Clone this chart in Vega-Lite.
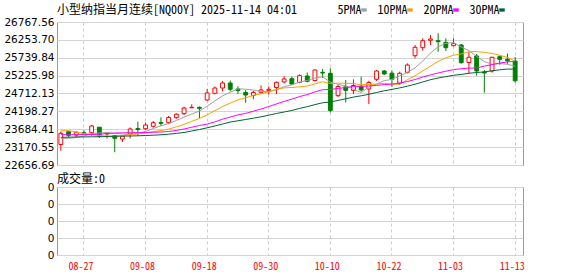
{
  "$schema": "https://vega.github.io/schema/vega-lite/v6.json",
  "background": "white",
  "padding": {"left": 3, "top": 3, "right": 5, "bottom": 2},
  "bounds": "flush",
  "spacing": 22,
  "config": {
    "view": {"stroke": "#999", "strokeWidth": 1},
    "axis": {"labelFont": "DejaVu Sans", "labelFontSize": 10.5, "labelColor": "#000", "gridColor": "#d4d4d4", "gridWidth": 1, "ticks": false, "tickSize": 0, "domain": false, "labelOverlap": false}
  },
  "datasets": {
    "k": [
      {"d":"08-22","o":23246,"h":23620,"l":23068,"c":23568,"5PMA":23424,"10PMA":23643,"20PMA":23528,"30PMA":23453,"v":0},
      {"d":"08-25","o":23614,"h":23634,"l":23447,"c":23510,"5PMA":23424,"10PMA":23643,"20PMA":23528,"30PMA":23456,"v":0},
      {"d":"08-26","o":23519,"h":23620,"l":23433,"c":23597,"5PMA":23447,"10PMA":23605,"20PMA":23528,"30PMA":23462,"v":0},
      {"d":"08-27","o":23585,"h":23654,"l":23533,"c":23556,"5PMA":23490,"10PMA":23562,"20PMA":23531,"30PMA":23465,"v":0},
      {"d":"08-28","o":23585,"h":23807,"l":23499,"c":23778,"5PMA":23562,"10PMA":23533,"20PMA":23533,"30PMA":23467,"v":0},
      {"d":"08-29","o":23743,"h":23749,"l":23433,"c":23485,"5PMA":23577,"10PMA":23505,"20PMA":23542,"30PMA":23470,"v":0},
      {"d":"09-01","o":23548,"h":23585,"l":23418,"c":23568,"5PMA":23591,"10PMA":23490,"20PMA":23562,"30PMA":23476,"v":0},
      {"d":"09-02","o":23505,"h":23519,"l":23022,"c":23424,"5PMA":23562,"10PMA":23490,"20PMA":23577,"30PMA":23482,"v":0},
      {"d":"09-03","o":23404,"h":23490,"l":23318,"c":23482,"5PMA":23548,"10PMA":23496,"20PMA":23582,"30PMA":23488,"v":0},
      {"d":"09-04","o":23548,"h":23735,"l":23424,"c":23692,"5PMA":23531,"10PMA":23533,"20PMA":23585,"30PMA":23490,"v":0},
      {"d":"09-05","o":23706,"h":23901,"l":23490,"c":23677,"5PMA":23568,"10PMA":23548,"20PMA":23588,"30PMA":23496,"v":0},
      {"d":"09-08","o":23700,"h":23878,"l":23663,"c":23807,"5PMA":23617,"10PMA":23577,"20PMA":23591,"30PMA":23505,"v":0},
      {"d":"09-09","o":23769,"h":23922,"l":23729,"c":23873,"5PMA":23706,"10PMA":23614,"20PMA":23597,"30PMA":23513,"v":0},
      {"d":"09-10","o":23878,"h":24028,"l":23778,"c":23855,"5PMA":23781,"10PMA":23649,"20PMA":23605,"30PMA":23525,"v":0},
      {"d":"09-11","o":23873,"h":24065,"l":23835,"c":24022,"5PMA":23847,"10PMA":23689,"20PMA":23620,"30PMA":23542,"v":0},
      {"d":"09-12","o":24016,"h":24143,"l":23988,"c":24117,"5PMA":23936,"10PMA":23752,"20PMA":23649,"30PMA":23565,"v":0},
      {"d":"09-15","o":24131,"h":24333,"l":24094,"c":24295,"5PMA":24034,"10PMA":23824,"20PMA":23692,"30PMA":23591,"v":0},
      {"d":"09-16","o":24301,"h":24402,"l":24295,"c":24315,"5PMA":24120,"10PMA":23913,"20PMA":23743,"30PMA":23634,"v":0},
      {"d":"09-17","o":24315,"h":24338,"l":24008,"c":24287,"5PMA":24206,"10PMA":23994,"20PMA":23792,"30PMA":23677,"v":0},
      {"d":"09-18","o":24525,"h":24842,"l":24497,"c":24727,"5PMA":24347,"10PMA":24097,"20PMA":23833,"30PMA":23726,"v":0},
      {"d":"09-19","o":24718,"h":24913,"l":24689,"c":24870,"5PMA":24499,"10PMA":24218,"20PMA":23896,"30PMA":23778,"v":0},
      {"d":"09-22","o":24870,"h":25072,"l":24770,"c":25014,"5PMA":24643,"10PMA":24338,"20PMA":23973,"30PMA":23835,"v":0},
      {"d":"09-23","o":25014,"h":25086,"l":24770,"c":24833,"5PMA":24747,"10PMA":24433,"20PMA":24034,"30PMA":23893,"v":0},
      {"d":"09-24","o":24842,"h":24919,"l":24698,"c":24798,"5PMA":24847,"10PMA":24528,"20PMA":24097,"30PMA":23927,"v":0},
      {"d":"09-25","o":24741,"h":24813,"l":24448,"c":24669,"5PMA":24836,"10PMA":24591,"20PMA":24140,"30PMA":23965,"v":0},
      {"d":"09-26","o":24655,"h":24784,"l":24545,"c":24741,"5PMA":24810,"10PMA":24655,"20PMA":24203,"30PMA":24002,"v":0},
      {"d":"09-29","o":24747,"h":24942,"l":24698,"c":24813,"5PMA":24770,"10PMA":24706,"20PMA":24267,"30PMA":24042,"v":0},
      {"d":"09-30","o":24804,"h":24913,"l":24683,"c":24833,"5PMA":24770,"10PMA":24758,"20PMA":24336,"30PMA":24088,"v":0},
      {"d":"10-01","o":24885,"h":25057,"l":24698,"c":25034,"5PMA":24818,"10PMA":24833,"20PMA":24413,"30PMA":24137,"v":0},
      {"d":"10-02","o":25043,"h":25207,"l":25005,"c":25129,"5PMA":24910,"10PMA":24873,"20PMA":24485,"30PMA":24180,"v":0},
      {"d":"10-03","o":25138,"h":25195,"l":24965,"c":24985,"5PMA":24959,"10PMA":24885,"20PMA":24551,"30PMA":24226,"v":0},
      {"d":"10-06","o":25034,"h":25264,"l":25005,"c":25224,"5PMA":25040,"10PMA":24905,"20PMA":24623,"30PMA":24284,"v":0},
      {"d":"10-07","o":25215,"h":25316,"l":25034,"c":25063,"5PMA":25086,"10PMA":24928,"20PMA":24681,"30PMA":24333,"v":0},
      {"d":"10-08","o":25086,"h":25402,"l":25057,"c":25388,"5PMA":25158,"10PMA":24988,"20PMA":24758,"30PMA":24393,"v":0},
      {"d":"10-09","o":25322,"h":25417,"l":25158,"c":25302,"5PMA":25192,"10PMA":25051,"20PMA":24821,"30PMA":24445,"v":0},
      {"d":"10-10","o":25293,"h":25437,"l":24166,"c":24224,"5PMA":25040,"10PMA":25000,"20PMA":24827,"30PMA":24468,"v":0},
      {"d":"10-13","o":24649,"h":24957,"l":24612,"c":24913,"5PMA":24977,"10PMA":25008,"20PMA":24859,"30PMA":24514,"v":0},
      {"d":"10-14","o":24908,"h":25100,"l":24453,"c":24804,"5PMA":24925,"10PMA":25005,"20PMA":24882,"30PMA":24560,"v":0},
      {"d":"10-15","o":24804,"h":25120,"l":24698,"c":24942,"5PMA":24836,"10PMA":24997,"20PMA":24916,"30PMA":24609,"v":0},
      {"d":"10-16","o":24919,"h":25195,"l":24770,"c":24813,"5PMA":24738,"10PMA":24965,"20PMA":24919,"30PMA":24646,"v":0},
      {"d":"10-17","o":24842,"h":25080,"l":24410,"c":25028,"5PMA":24899,"10PMA":24971,"20PMA":24928,"30PMA":24689,"v":0},
      {"d":"10-20","o":25120,"h":25388,"l":25072,"c":25359,"5PMA":24988,"10PMA":24982,"20PMA":24945,"30PMA":24741,"v":0},
      {"d":"10-21","o":25359,"h":25388,"l":25244,"c":25273,"5PMA":25083,"10PMA":25005,"20PMA":24968,"30PMA":24790,"v":0},
      {"d":"10-22","o":25296,"h":25373,"l":24899,"c":25120,"5PMA":25117,"10PMA":24977,"20PMA":24982,"30PMA":24830,"v":0},
      {"d":"10-23","o":25005,"h":25339,"l":24957,"c":25293,"5PMA":25215,"10PMA":24977,"20PMA":25014,"30PMA":24873,"v":0},
      {"d":"10-24","o":25322,"h":25580,"l":25287,"c":25531,"5PMA":25316,"10PMA":25109,"20PMA":25054,"30PMA":24922,"v":0},
      {"d":"10-27","o":25799,"h":26106,"l":25724,"c":26040,"5PMA":25451,"10PMA":25221,"20PMA":25115,"30PMA":24980,"v":0},
      {"d":"10-28","o":26029,"h":26299,"l":25943,"c":26230,"5PMA":25644,"10PMA":25362,"20PMA":25184,"30PMA":25043,"v":0},
      {"d":"10-29","o":26242,"h":26394,"l":26106,"c":26279,"5PMA":25873,"10PMA":25497,"20PMA":25247,"30PMA":25109,"v":0},
      {"d":"10-30","o":26230,"h":26443,"l":25914,"c":26201,"5PMA":26057,"10PMA":25635,"20PMA":25302,"30PMA":25158,"v":0},
      {"d":"10-31","o":26184,"h":26299,"l":25934,"c":26029,"5PMA":26155,"10PMA":25736,"20PMA":25353,"30PMA":25198,"v":0},
      {"d":"11-03","o":26086,"h":26299,"l":26063,"c":26144,"5PMA":26175,"10PMA":25813,"20PMA":25399,"30PMA":25235,"v":0},
      {"d":"11-04","o":26106,"h":26135,"l":25569,"c":25598,"5PMA":26049,"10PMA":25848,"20PMA":25425,"30PMA":25261,"v":0},
      {"d":"11-05","o":25603,"h":25905,"l":25293,"c":25753,"5PMA":25945,"10PMA":25911,"20PMA":25442,"30PMA":25293,"v":0},
      {"d":"11-06","o":25790,"h":25848,"l":25224,"c":25359,"5PMA":25776,"10PMA":25917,"20PMA":25445,"30PMA":25316,"v":0},
      {"d":"11-07","o":25330,"h":25388,"l":24735,"c":25302,"5PMA":25632,"10PMA":25894,"20PMA":25500,"30PMA":25333,"v":0},
      {"d":"11-10","o":25359,"h":25770,"l":25310,"c":25753,"5PMA":25552,"10PMA":25865,"20PMA":25543,"30PMA":25365,"v":0},
      {"d":"11-11","o":25770,"h":25799,"l":25540,"c":25695,"5PMA":25572,"10PMA":25810,"20PMA":25586,"30PMA":25394,"v":0},
      {"d":"11-12","o":25695,"h":25862,"l":25566,"c":25655,"5PMA":25552,"10PMA":25750,"20PMA":25623,"30PMA":25414,"v":0},
      {"d":"11-13","o":25646,"h":25761,"l":25023,"c":25080,"5PMA":25497,"10PMA":25638,"20PMA":25635,"30PMA":25414,"v":0}
    ]
  },
  "vconcat": [
    {
      "width": 466,
      "height": 143,
      "title": {"text": "小型纳指当月连续[NQ00Y] 2025-11-14 04:01", "anchor": "start", "frame": "group", "font": "Noto Sans Mono CJK SC, Noto Sans CJK SC", "fontSize": 12, "fontWeight": "normal", "color": "#000", "offset": 0},
      "data": {"name": "k"},
      "encoding": {
        "x": {"field": "d", "type": "ordinal", "sort": null,
          "scale": {"paddingInner": 0, "paddingOuter": 0.26, "align": 0},
          "axis": {"title": null, "labels": false, "grid": true, "gridDash": [3, 3], "gridColor": "#cccccc", "bandPosition": 0.5,
            "values": ["08-27", "09-08", "09-18", "09-30", "10-10", "10-22", "11-03", "11-13"]}}
      },
      "layer": [
        {
          "mark": {"type": "rule", "strokeWidth": 1},
          "encoding": {
            "y": {"field": "l", "type": "quantitative",
              "scale": {"domain": [22656.69, 26767.56], "nice": false, "zero": false},
              "axis": {"title": null, "grid": true, "format": ".2f", "labelPadding": 3, "labelBaseline": "middle", "labelOverlap": false, "labelFlush": false, "tickCount": 12,
                "values": [22656.69, 23170.55, 23684.41, 24198.27, 24712.13, 25225.98, 25739.84, 26253.70, 26767.56]}},
            "y2": {"field": "h"},
            "color": {"condition": {"test": "datum.c >= datum.o", "value": "#ff0000"}, "value": "#008000"}
          }
        },
        {
          "mark": {"type": "bar", "width": {"band": 0.5}, "strokeWidth": 1},
          "encoding": {
            "y": {"field": "o", "type": "quantitative"},
            "y2": {"field": "c"},
            "fill": {"condition": {"test": "datum.c >= datum.o", "value": "#ffffff"}, "value": "#008000"},
            "stroke": {"condition": {"test": "datum.c >= datum.o", "value": "#ff0000"}, "value": "#008000"}
          }
        },
        {
          "transform": [{"fold": ["5PMA", "10PMA", "20PMA", "30PMA"], "as": ["ma", "val"]}],
          "mark": {"type": "line", "strokeWidth": 1},
          "encoding": {
            "y": {"field": "val", "type": "quantitative"},
            "color": {"field": "ma", "type": "nominal",
              "scale": {"domain": ["5PMA", "10PMA", "20PMA", "30PMA"], "range": ["#a0a0a0", "#f5a300", "#ff00ff", "#006633"]},
              "legend": {"orient": "none", "legendX": 301, "legendY": -18, "direction": "horizontal", "title": null,
                "labelFont": "Noto Sans Mono CJK SC, Noto Sans CJK SC", "labelFontSize": 12, "labelColor": "#000",
                "labelAlign": "right", "labelOffset": -8.5, "columnPadding": 10,
                "symbolType": "M-1,-0.6H1V0.6H-1Z", "symbolSize": 30, "symbolStrokeWidth": 0,
                "encode": {"symbols": {"update": {"fill": {"scale": "color", "field": "value"}}}}}}
          }
        }
      ]
    },
    {
      "width": 466,
      "height": 68,
      "title": {"text": "成交量:0", "anchor": "start", "frame": "group", "font": "Noto Sans Mono CJK SC, Noto Sans CJK SC", "fontSize": 12, "fontWeight": "normal", "color": "#000", "offset": -3.5},
      "data": {"name": "k"},
      "mark": {"type": "bar", "width": {"band": 0.5}},
      "encoding": {
        "x": {"field": "d", "type": "ordinal", "sort": null,
          "scale": {"paddingInner": 0, "paddingOuter": 0.26, "align": 0},
          "axis": {"title": null, "grid": true, "gridDash": [3, 3], "gridColor": "#cccccc", "bandPosition": 0.5,
            "labelAngle": 0, "labelColor": "#ff0000", "labelFont": "Noto Sans Mono CJK SC, Noto Sans CJK SC", "labelFontSize": 10, "labelPadding": 6, "labelOffset": -3,
            "values": ["08-27", "09-08", "09-18", "09-30", "10-10", "10-22", "11-03", "11-13"]}},
        "y": {"field": "v", "type": "quantitative",
          "scale": {"domain": [0, 4], "nice": false, "zero": true},
          "axis": {"title": null, "grid": true, "values": [0, 1, 2, 3, 4], "tickCount": 8, "labelExpr": "'0'", "labelPadding": 3, "labelBaseline": "middle", "labelOverlap": false}},
        "color": {"value": "#008000"}
      }
    }
  ]
}
